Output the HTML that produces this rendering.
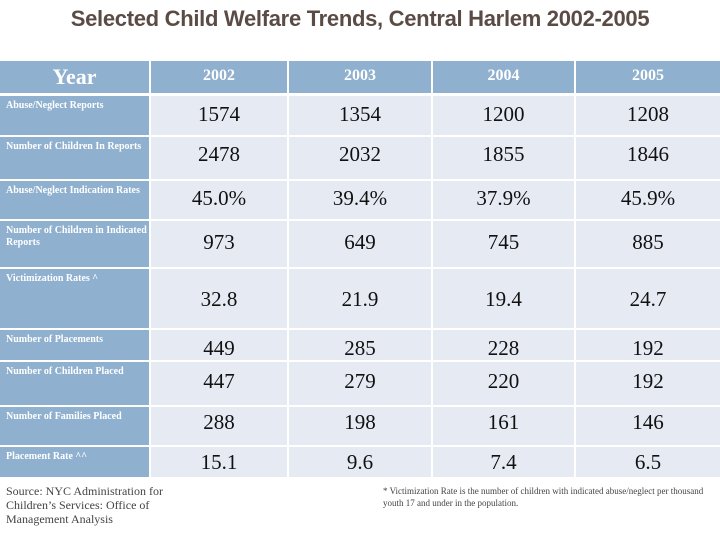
<!DOCTYPE html>
<html><head><meta charset="utf-8"><style>
body{margin:0;width:720px;height:540px;background:#fff;position:relative;overflow:hidden;font-family:"Liberation Serif",serif}
.t{position:absolute;left:0;top:6px;width:720px;text-align:center;font-family:"Liberation Sans",sans-serif;font-size:22px;font-weight:bold;color:#5b4b45;letter-spacing:-0.3px}
.c{position:absolute;box-sizing:border-box}
.h{background:#8fb0cf;color:#fff}
.b{background:#e6eaf3;color:#111;text-align:center;font-size:21px}
.lab{font-size:10px;padding:4px 0 0 6px;line-height:12px;font-weight:bold}
.note{position:absolute;font-size:11px;color:#444;line-height:14px}
</style></head><body>
<div class="t">Selected Child Welfare Trends, Central Harlem 2002-2005</div>
<div id="tbl"></div>
<div class="note" style="left:6px;top:484px;width:170px;font-size:12px">Source: NYC Administration for Children’s Services: Office of Management Analysis</div>
<div class="note" style="left:383px;top:485px;width:330px;font-size:9px;line-height:12px">* Victimization Rate is the number of children with indicated abuse/neglect per thousand youth 17 and under in the population.</div>
<script>
const years=["2002","2003","2004","2005"];
const rowLabels=["Abuse/Neglect Reports","Number of Children In Reports","Abuse/Neglect Indication Rates","Number of Children in Indicated Reports","Victimization Rates ^","Number of Placements","Number of Children Placed","Number of Families Placed","Placement Rate ^^"];
const v2002=["1574","2478","45.0%","973","32.8","449","447","288","15.1"];
const v2003=["1354","2032","39.4%","649","21.9","285","279","198","9.6"];
const v2004=["1200","1855","37.9%","745","19.4","228","220","161","7.4"];
const v2005=["1208","1846","45.9%","885","24.7","192","192","146","6.5"];
const cols=[[0,149],[151,287],[289,431],[433,574],[576,720]];
const rows=[[96,135],[137,179],[181,219],[221,267],[269,328],[330,360],[362,405],[407,445],[447,477]];
const textOff=[0.45,0.4,0.45,0.45,0.5,0.6,0.45,0.4,0.5];
const tbl=document.getElementById('tbl');
function cell(x0,x1,y0,y1,cls,txt){const d=document.createElement('div');d.className='c '+cls;d.style.left=x0+'px';d.style.top=y0+'px';d.style.width=(x1-x0)+'px';d.style.height=(y1-y0)+'px';d.textContent=txt;tbl.appendChild(d);return d;}
let hd=cell(0,149,61,93,'h','Year');


hd.style.cssText+=';font-size:22px;font-weight:bold;text-align:center;line-height:32px';
years.forEach((y,i)=>{const d=cell(cols[i+1][0],cols[i+1][1],61,93,'h',y);


d.style.cssText+=';font-size:16px;font-weight:bold;text-align:center;line-height:30px';});
const all=[v2002,v2003,v2004,v2005];
rows.forEach((r,i)=>{const l=cell(0,149,r[0],r[1],'h lab',rowLabels[i]);


all.forEach((s,j)=>{const d=cell(cols[j+1][0],cols[j+1][1],r[0],r[1],'b','');


const sp=document.createElement('div');sp.textContent=s[i];sp.style.position='absolute';sp.style.left='0';sp.style.width='100%';sp.style.top=((r[1]-r[0])*textOff[i]-12)+'px';d.appendChild(sp);});});
</script>
</body></html>
